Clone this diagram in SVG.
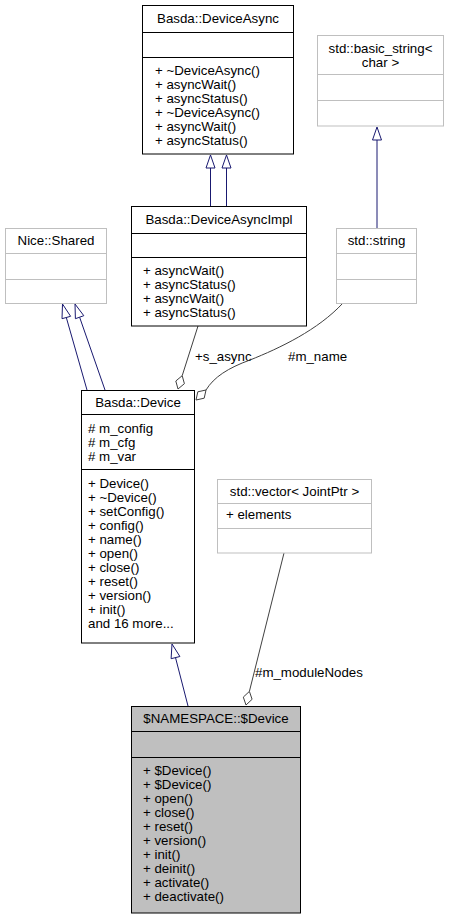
<svg xmlns="http://www.w3.org/2000/svg" width="450" height="920" viewBox="0 0 450 920">
<style>
text{font-family:"Liberation Sans",Arial,sans-serif;font-size:13.3px;fill:#000}
.c{text-anchor:middle}
.box{fill:#fff;stroke:#000;stroke-width:1}
.ext{fill:#fff;stroke:#bfbfbf;stroke-width:1}
.cur{fill:#bfbfbf;stroke:#000;stroke-width:1}
.sep{stroke:#000;stroke-width:1}
.sepx{stroke:#bfbfbf;stroke-width:1}
.inh{fill:none;stroke:#191970;stroke-width:1}
.tri{fill:#fff;stroke:#191970;stroke-width:1}
.agg{fill:none;stroke:#404040;stroke-width:1}
.dia{fill:#fff;stroke:#404040;stroke-width:1}
</style>
<rect width="450" height="920" fill="#fff"/>
<g id="connectors">
<path class="inh" d="M210.5,168 V206 M226.5,168 V206"/>
<polygon class="tri" points="210.5,155 206,168 215,168"/>
<polygon class="tri" points="226.5,155 222,168 231,168"/>
<path class="inh" d="M377,140 V228"/>
<polygon class="tri" points="377,127 372.5,140 381.5,140"/>
<path class="inh" d="M87,390 L66.3,317.5 M105,390 L79.6,317.2"/>
<polygon class="tri" points="62.5,304 70.6,316.3 62,318.7"/>
<polygon class="tri" points="75,304 83.8,315.7 75.4,318.7"/>
<path class="inh" d="M188,706 L175.5,657.6"/>
<polygon class="tri" points="172,644 179.9,656.5 171.1,658.7"/>
<path class="agg" d="M198,326 L182.2,375.7"/>
<polygon class="dia" points="178,389 175.8,381 182.2,375.7 184.4,383.7"/>
<text x="195" y="361">+s_async</text>
<path class="agg" d="M343,303 C318,330 280,348 250,360 C228,368 214,377 206,390"/>
<polygon class="dia" points="196,400 197.8,391.8 206,390 204.2,398.2"/>
<text x="288" y="361">#m_name</text>
<path class="agg" d="M284,553 L249.4,691.4"/>
<polygon class="dia" points="246,705 243.3,697.1 249.4,691.4 252.1,699.3"/>
<text x="255" y="677">#m_moduleNodes</text>
</g>
<g id="DeviceAsync">
<rect class="box" x="142.5" y="5.5" width="151" height="148.5"/>
<path class="sep" d="M142.5,32.5 H293.5 M142.5,57.5 H293.5"/>
<text class="c" x="218" y="23">Basda::DeviceAsync</text>
<text x="155" y="75">+ ~DeviceAsync()</text>
<text x="155" y="89">+ asyncWait()</text>
<text x="155" y="103">+ asyncStatus()</text>
<text x="155" y="117">+ ~DeviceAsync()</text>
<text x="155" y="131">+ asyncWait()</text>
<text x="155" y="145">+ asyncStatus()</text>
</g>
<g id="basic_string">
<rect class="ext" x="317.5" y="35.5" width="126" height="90.5"/>
<path class="sepx" d="M317.5,74.5 H443.5 M317.5,100.5 H443.5"/>
<text class="c" x="380.5" y="53">std::basic_string&lt;</text>
<text class="c" x="380.5" y="67">char &gt;</text>
</g>
<g id="NiceShared">
<rect class="ext" x="5.5" y="228.5" width="101" height="75"/>
<path class="sepx" d="M5.5,253.5 H106.5 M5.5,279.5 H106.5"/>
<text class="c" x="56" y="245">Nice::Shared</text>
</g>
<g id="DeviceAsyncImpl">
<rect class="box" x="131.5" y="206.5" width="175" height="119.5"/>
<path class="sep" d="M131.5,233.5 H306.5 M131.5,257.5 H306.5"/>
<text class="c" x="219" y="224">Basda::DeviceAsyncImpl</text>
<text x="143" y="275">+ asyncWait()</text>
<text x="143" y="289">+ asyncStatus()</text>
<text x="143" y="303">+ asyncWait()</text>
<text x="143" y="317">+ asyncStatus()</text>
</g>
<g id="stdstring">
<rect class="ext" x="336.5" y="228.5" width="80" height="75"/>
<path class="sepx" d="M336.5,253.5 H416.5 M336.5,279.5 H416.5"/>
<text class="c" x="376.5" y="245">std::string</text>
</g>
<g id="BasdaDevice">
<rect class="box" x="81.5" y="390.5" width="113" height="252.5"/>
<path class="sep" d="M81.5,414.5 H194.5 M81.5,469.5 H194.5"/>
<text class="c" x="138" y="407">Basda::Device</text>
<text x="88" y="433"># m_config</text>
<text x="88" y="447"># m_cfg</text>
<text x="88" y="461"># m_var</text>
<text x="88" y="488">+ Device()</text>
<text x="88" y="502">+ ~Device()</text>
<text x="88" y="516">+ setConfig()</text>
<text x="88" y="530">+ config()</text>
<text x="88" y="544">+ name()</text>
<text x="88" y="558">+ open()</text>
<text x="88" y="572">+ close()</text>
<text x="88" y="586">+ reset()</text>
<text x="88" y="600">+ version()</text>
<text x="88" y="614">+ init()</text>
<text x="88" y="628">and 16 more...</text>
</g>
<g id="stdvector">
<rect class="ext" x="217.5" y="479.5" width="154" height="73.5"/>
<path class="sepx" d="M217.5,503.5 H371.5 M217.5,528.5 H371.5"/>
<text class="c" x="294.5" y="496">std::vector&lt; JointPtr &gt;</text>
<text x="226" y="519">+ elements</text>
</g>
<g id="NamespaceDevice">
<rect class="cur" x="131.5" y="706.5" width="169" height="206.5"/>
<path class="sep" d="M131.5,731.5 H300.5 M131.5,757.5 H300.5"/>
<text class="c" x="216" y="723">$NAMESPACE::$Device</text>
<text x="143" y="775">+ $Device()</text>
<text x="143" y="789">+ $Device()</text>
<text x="143" y="803">+ open()</text>
<text x="143" y="817">+ close()</text>
<text x="143" y="831">+ reset()</text>
<text x="143" y="845">+ version()</text>
<text x="143" y="859">+ init()</text>
<text x="143" y="873">+ deinit()</text>
<text x="143" y="887">+ activate()</text>
<text x="143" y="901">+ deactivate()</text>
</g>
</svg>
